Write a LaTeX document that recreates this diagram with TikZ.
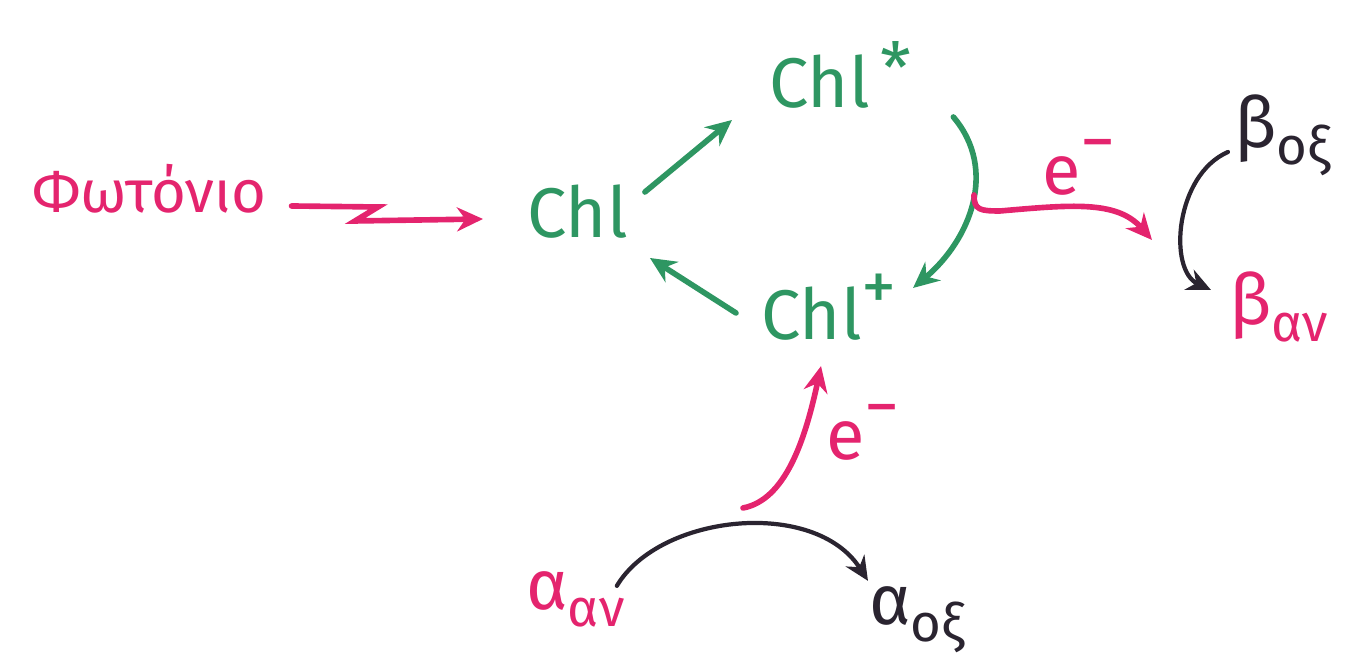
\documentclass[tikz,border=0pt]{standalone}
\usepackage{fontspec}
\setmainfont{Fira Sans}
\usetikzlibrary{arrows.meta,positioning}
\definecolor{pinkink}{RGB}{228,36,110}
\definecolor{greenink}{RGB}{46,150,98}
\definecolor{darkink}{RGB}{42,36,48}
\newcommand{\lowsub}[1]{\raisebox{-0.45ex}{\fontsize{15}{18}\selectfont #1}}
\newcommand{\highsup}[2][0.8ex]{\raisebox{#1}{\fontsize{20}{22}\selectfont #2}}

\begin{document}
\begin{tikzpicture}[
    x=0.01cm, y=-0.01cm,
    lbl/.style={inner sep=1pt, anchor=base west, font=\fontsize{20}{24}\selectfont},
    link/.style={-{Stealth[length=2.6mm, width=2.4mm]}, line width=1.6pt, line cap=round},
    redox/.style={-{Stealth[length=2.4mm, width=2.2mm]}, line width=1.2pt, line cap=round, darkink}
]
\useasboundingbox (0,0) rectangle (1362,671);
\node[lbl, text=pinkink, font=\fontsize{17}{20}\selectfont] (photon) at (28,213) {Φωτόνιο};
\node[lbl, text=greenink] (chl) at (523,238) {Chl};
\node[lbl, text=greenink] (chlexc) at (765,108) {Chl\hspace{3pt}\highsup[0.4ex]{*}};
\node[lbl, text=greenink] (chlox) at (757,340) {Chl\highsup{+}};
\node[lbl, text=darkink] (betaox) at (1230,148) {β\lowsub{οξ}};
\node[lbl, text=pinkink] (betared) at (1225,325) {β\lowsub{αν}};
\node[lbl, text=pinkink] (alphared) at (522,610) {α\lowsub{αν}};
\node[lbl, text=darkink] (alphaox) at (865,625) {α\lowsub{οξ}};
\node[lbl, text=pinkink] (eright) at (1038,195) {e\highsup{−}};
\node[lbl, text=pinkink] (eup) at (822,460) {e\highsup{−}};
\coordinate (zigA) at (378,207);
\coordinate (zigB) at (355,221);
\coordinate (eoutA) at (974,195);
\coordinate (eoutB) at (1152,240);
\coordinate (einA) at (743,508);
% light and the chlorophyll cycle
\draw[link, pinkink] ([shift={(21,-7)}]photon.base east) -- (zigA) -- (zigB) -- ([shift={(-40,-19)}]chl.base west);
\draw[link, greenink] ([shift={(13,-46)}]chl.base east) -- ([shift={(-33,12)}]chlexc.base west);
\draw[link, greenink] ([shift={(38,9)}]chlexc.base east) .. controls +(45,53) and +(57,-48) .. ([shift={(12,-52)}]chlox.base east);
\draw[link, greenink] ([shift={(-21,-27)}]chlox.base west) -- ([shift={(18,20)}]chl.base east);
% electron transfer
\draw[link, pinkink] (eoutA) .. controls +(0,15) and +(-20,0) .. ++(26,16) .. controls +(70,-6) and +(-35,-40) .. (eoutB);
\draw[link, pinkink] (einA) .. controls +(42,-8) and +(-16,75) .. ([shift={(-8,21)}]chlox.south);
\draw[redox] ([shift={(-2,4)}]betaox.base west) .. controls +(-53,23) and +(-43,-20) .. ([shift={(-14,-35)}]betared.base west);
\draw[redox] ([shift={(-12,18)}]alphared.north east) .. controls +(43,-72) and +(-53,-83) .. ([shift={(3,-2)}]alphaox.north west);
\end{tikzpicture}
\end{document}
